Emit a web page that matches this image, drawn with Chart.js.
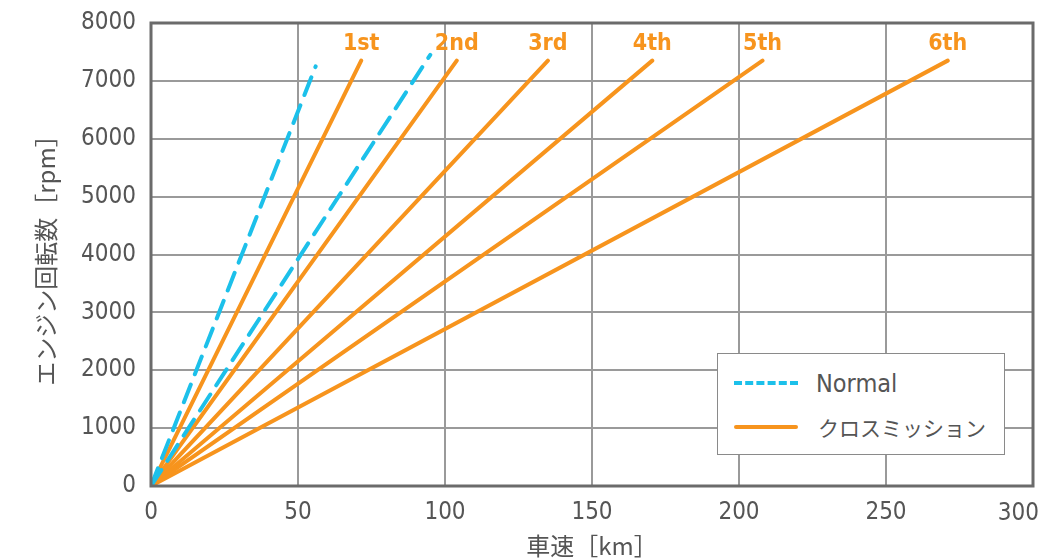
<!DOCTYPE html>
<html><head><meta charset="utf-8">
<script src="https://cdn.jsdelivr.net/npm/chart.js@4"></script>
<style>
html,body{margin:0;padding:0;background:#fff;}
#wrap{position:relative;width:1042px;height:560px;overflow:hidden;}
#legend{position:absolute;left:717px;top:353px;width:286px;height:100px;border:1.5px solid #8a8a8a;background:#fff;font-family:'DejaVu Sans Condensed','Noto Sans CJK JP',sans-serif;color:#555;font-size:25px;}
.item{position:absolute;left:16px;height:30px;display:flex;align-items:center;}
.sw{width:64px;height:0;margin-right:18px;}
</style></head>
<body>
<div id="wrap"><canvas id="c" width="1042" height="560"></canvas>
<div id="legend">
 <div class="item" style="top:14px"><div class="sw" style="border-top:4px dashed #1cc0ea"></div><span>Normal</span></div>
 <div class="item" style="top:58px"><div class="sw" style="border-top:4px solid #f7941d;border-radius:2px"></div><span style="font-family:'Noto Sans CJK JP';font-size:21px;margin-left:2px">クロスミッション</span></div>
</div></div>
<script>
const gearLabels = ['1st','2nd','3rd','4th','5th','6th'];
const crossSpeed = [71.5, 104, 135, 170.5, 208, 271];
const crossRpm = [7350, 7350, 7350, 7350, 7350, 7350];
const normalSpeed = [56, 95];
const normalRpm = [7250, 7450];
const xTicks = [0,50,100,150,200,250,300];
const yTicks = [0,1000,2000,3000,4000,5000,6000,7000,8000];

const ORANGE = '#f7941d', BLUE = '#1cc0ea';
const FONT = "'DejaVu Sans Condensed','Noto Sans CJK JP',sans-serif";
const TICKFONT = 24;

const datasets = [];
normalSpeed.forEach((s,i)=>datasets.push({
  label: i===0?'Normal':'Normal ' + (i+1),
  data:[{x:0,y:0},{x:s,y:normalRpm[i]}],
  borderColor:BLUE, borderWidth:4, borderDash:[19,11], borderCapStyle:'round',
  showLine:true, pointRadius:0, fill:false
}));
crossSpeed.forEach((s,i)=>datasets.push({
  label: gearLabels[i],
  data:[{x:0,y:0},{x:s,y:crossRpm[i]}],
  borderColor:ORANGE, borderWidth:4, borderCapStyle:'round',
  showLine:true, pointRadius:0, fill:false
}));

const lastX = xTicks[xTicks.length-1];

const decor = {
  id:'decor',
  afterDatasetsDraw(chart){
    const {ctx, chartArea:a, scales:{x,y}} = chart;
    ctx.save();
    ctx.strokeStyle='#6b6b6b'; ctx.lineWidth=3;
    ctx.strokeRect(a.left, a.top, a.right-a.left, a.bottom-a.top);
    ctx.fillStyle=ORANGE; ctx.font="bold 23px "+FONT;
    ctx.textAlign='center'; ctx.textBaseline='bottom';
    crossSpeed.forEach((s,i)=>{
      ctx.fillText(gearLabels[i], x.getPixelForValue(s), y.getPixelForValue(crossRpm[i]) - 5);
    });
    // last x tick label kept inside the canvas
    ctx.fillStyle='#555'; ctx.font=TICKFONT+"px "+FONT;
    ctx.textAlign='right'; ctx.textBaseline='top';
    ctx.fillText(String(lastX), x.getPixelForValue(lastX)+6, a.bottom+16);
    ctx.restore();
  }
};

new Chart(document.getElementById('c'), {
  type:'scatter',
  data:{datasets},
  options:{
    responsive:false, animation:false,
    layout:{padding:{top:23,right:9,left:0,bottom:0}},
    plugins:{legend:{display:false}, tooltip:{enabled:false}},
    scales:{
      x:{type:'linear', min:0, max:300,
        afterBuildTicks(s){ s.ticks = xTicks.map(v=>({value:v})); },
        afterFit(s){ s.height = 74; s.paddingLeft = 0; s.paddingRight = 0; },
        grid:{color:'#9a9a9a', lineWidth:2, drawTicks:false},
        border:{display:false},
        ticks:{color:'#555', font:{family:FONT,size:TICKFONT}, padding:12, maxRotation:0,
          callback:(v)=> v===lastX ? '' : String(v)},
        title:{display:true, text:'車速［km］', color:'#555', font:{family:"'Noto Sans CJK JP'",size:24}, padding:{top:0,bottom:0}}
      },
      y:{type:'linear', min:0, max:8000,
        afterBuildTicks(s){ s.ticks = yTicks.map(v=>({value:v})); },
        afterFit(s){ s.width = 151; s.paddingTop = 0; s.paddingBottom = 0; },
        grid:{color:'#9a9a9a', lineWidth:2, drawTicks:false},
        border:{display:false},
        ticks:{color:'#555', font:{family:FONT,size:TICKFONT}, padding:15, callback:(v)=>String(v)},
        title:{display:true, text:'エンジン回転数［rpm］', color:'#555', font:{family:"'Noto Sans CJK JP'",size:24}, padding:{top:31,bottom:0}}
      }
    }
  },
  plugins:[decor]
});
</script>
</body></html>
